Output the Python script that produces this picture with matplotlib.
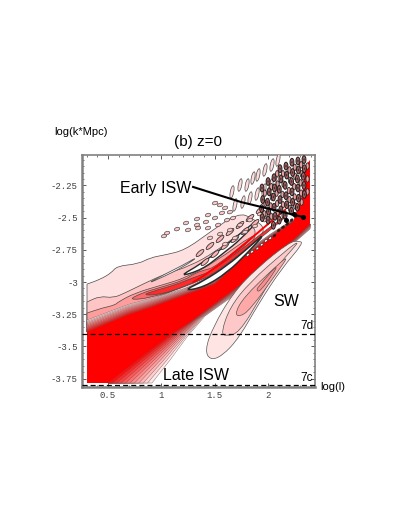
import numpy as np
from matplotlib import pyplot as plt
from matplotlib.patches import Ellipse, PathPatch
from matplotlib.path import Path

### Axis ticks
x_ticks = [0.5, 1, 1.5, 2]
x_tick_labels = ['0.5', '1', '1.5', '2']
y_ticks = [-2.25, -2.5, -2.75, -3, -3.25, -3.5, -3.75]
y_tick_labels = ['-2.25', '-2.5', '-2.75', '-3', '-3.25', '-3.5', '-3.75']

### Contour outlines (log l, log k)
level1_l = [.303, .303, .303, .303, .425, .53, .584, .781, .9, 1.034, 1.222, 1.456, 1.718, 1.85, 2.0, 1.765, 1.503, .912]
level1_k = [-3.388, -3.388, -3.016, -3.016, -2.98, -2.93, -2.876, -2.86, -2.81, -2.79, -2.752, -2.612, -2.464, -2.5, -2.6, -2.814, -3.016, -3.194]
level2_l = [.303, .303, .303, .303, .425, .547, .659, .847, 1.034, 1.269, 1.503, 1.737, 1.878, 1.878, 1.503, .912]
level2_k = [-3.357, -3.357, -3.155, -3.155, -3.109, -3.124, -3.085, -3.008, -2.938, -2.876, -2.767, -2.62, -2.557, -2.674, -2.953, -3.163]
level3_l = [.303, .303, .303, .303, .444, .566, .594, .753, 1.006, 1.222, 1.503, 1.878, 1.878, 1.503, .912]
level3_k = [-3.334, -3.334, -3.241, -3.241, -3.202, -3.179, -3.155, -3.085, -3.023, -2.969, -2.845, -2.62, -2.674, -2.922, -3.14]
level4_l = [.687, .819, .969, 1.222, 1.315, 1.409, 1.503, 1.878, 1.831, 1.503, 1.222, .894]
level4_k = [-3.14, -3.085, -3.047, -2.984, -2.93, -2.907, -2.884, -2.635, -2.674, -2.93, -3.039, -3.124]
level5_l = [.819, .959, 1.128, 1.315, 1.503, 2.159, 2.178, 1.503, 1.315, 1.128, .959]
level5_k = [-3.101, -3.062, -3.023, -2.961, -2.907, -2.48, -2.495, -2.938, -3.0, -3.062, -3.101]

### Main red wedge edges
lower_inner_l = [.5, .8, 1.109, 1.269, 1.737, 1.925, 2.234, 2.393]
lower_inner_k = [-3.784, -3.59, -3.396, -3.311, -3.023, -2.891, -2.674, -2.55]
lower_outer_l = [.912, 1.081, 1.24, 1.409, 1.765, 1.943, 2.243, 2.393]
lower_outer_k = [-3.784, -3.606, -3.427, -3.264, -3.054, -2.922, -2.697, -2.589]
upper_inner_l = [.303, .687, .912, 1.222, 1.503, 1.765, 2.018, 2.234]
upper_inner_k = [-3.388, -3.256, -3.194, -3.101, -3.016, -2.814, -2.658, -2.534]
upper_outer_l = [.303, .687, .912, 1.222, 1.503, 1.765, 2.018, 2.234]
upper_outer_k = [-3.295, -3.175, -3.125, -3.05, -2.97, -2.78, -2.63, -2.515]
top_right_l = [2.318, 2.356, 2.393]
top_right_k = [-2.325, -2.092, -2.053]

### White gaps between the ridges
white1_l = [1.2, 1.4, 1.62, 1.8, 2.0, 1.8, 1.62, 1.4]
white1_k = [-3.07, -2.99, -2.87, -2.745, -2.6, -2.78, -2.925, -3.04]
white2_l = [1.16, 1.36, 1.56, 1.737, 1.93, 1.75, 1.56, 1.38]
white2_k = [-2.96, -2.865, -2.745, -2.625, -2.5, -2.665, -2.79, -2.905]
white3_l = [.85, 1.03, 1.2, 1.36, 1.2, 1.03]
white3_k = [-3.02, -2.94, -2.87, -2.795, -2.885, -2.955]

### Narrow red ridge between the white gaps
thin_red_l = [1.3, 1.4, 1.6, 1.8, 2.0, 2.16]
thin_red_k = [-3.0, -2.95, -2.83, -2.69, -2.55, -2.44]

### SW island
sw1_l = [1.409, 1.456, 1.569, 1.728, 1.915, 2.131, 2.33, 2.29, 2.2, 1.897, 1.672, 1.484]
sw1_k = [-3.528, -3.606, -3.575, -3.434, -3.163, -2.891, -2.7, -2.68, -2.69, -2.891, -3.085, -3.349]
sw2_l = [1.559, 1.606, 1.728, 1.934, 2.112, 2.206, 2.3, 2.16, 1.831, 1.643]
sw2_k = [-3.396, -3.42, -3.396, -3.116, -2.853, -2.767, -2.674, -2.76, -3.0, -3.194]
sw3_l = [1.69, 1.728, 1.831, 2.103, 2.196, 2.037, 1.775]
sw3_k = [-3.240, -3.272, -3.217, -2.907, -2.79, -2.907, -3.116]
sw4_l = [1.887, 1.925, 2.084, 2.065, 1.925]
sw4_k = [-3.062, -3.078, -2.891, -2.884, -3.023]

### Isolated oscillation blobs
blob_l = [1.025, 1.053, 1.147, 1.231, 1.334, 1.437, 1.334, 1.418, 1.503, 1.568, 1.643, 1.503, 1.55, 1.597,
          1.25, 1.344, 1.437, 1.531, 1.615, 1.672,
          1.456, 1.55, 1.643, 1.737, 1.831, 1.925,
          1.597, 1.69, 1.784, 1.878, 1.971]
blob_k = [-2.643, -2.62, -2.589, -2.542, -2.511, -2.48, -2.557, -2.534, -2.503, -2.464, -2.457, -2.387, -2.402, -2.425,
          -2.596, -2.581, -2.581, -2.557, -2.519, -2.503,
          -2.658, -2.627, -2.596, -2.557, -2.519, -2.472,
          -2.705, -2.658, -2.612, -2.565, -2.519]

### Elongated cells along the ridge rows
ridge_l = [1.362, 1.456, 1.55, 1.643, 1.737, 1.831, 1.925,
           1.409, 1.503, 1.597, 1.69, 1.784, 1.878, 1.971]
ridge_k = [-2.775, -2.72, -2.666, -2.612, -2.557, -2.503, -2.441,
           -2.845, -2.783, -2.72, -2.666, -2.604, -2.542, -2.48]

### Tall crescents above the ridges
crescent_l = [1.662, 1.737, 1.803, 1.859, 1.906, 1.971, 2.037, 2.093, 1.69, 1.765, 1.831, 1.897, 1.962, 2.028, 2.093]
crescent_k = [-2.301, -2.247, -2.247, -2.193, -2.169, -2.13, -2.092, -2.053, -2.402, -2.379, -2.348, -2.317, -2.286, -2.247, -2.208]

### Dense dark cells near the top right
dark_l = [1.943, 1.95, 1.94, 1.945,
          2.0, 2.01, 1.995, 2.005, 2.0,
          2.056, 2.06, 2.05, 2.056, 2.065, 2.05,
          2.112, 2.12, 2.105, 2.112, 2.12, 2.105,
          2.168, 2.175, 2.16, 2.168, 2.175, 2.16,
          2.224, 2.23, 2.22, 2.224, 2.23, 2.22,
          2.28, 2.285, 2.275, 2.28, 2.285, 2.275,
          2.337, 2.34, 2.33, 2.337, 2.34]
dark_k = [-2.27, -2.36, -2.43, -2.50,
          -2.22, -2.30, -2.38, -2.45, -2.52,
          -2.19, -2.27, -2.34, -2.42, -2.49, -2.56,
          -2.12, -2.20, -2.28, -2.36, -2.44, -2.52,
          -2.10, -2.17, -2.25, -2.33, -2.40, -2.48,
          -2.07, -2.15, -2.22, -2.30, -2.38, -2.45,
          -2.06, -2.13, -2.20, -2.27, -2.35, -2.42,
          -2.05, -2.12, -2.18, -2.25, -2.32]
dark2_l = [1.97, 1.975, 1.965, 2.03, 2.035, 2.025, 2.03, 2.085, 2.09, 2.08, 2.085, 2.09,
           2.14, 2.145, 2.135, 2.14, 2.145, 2.2, 2.205, 2.195, 2.2, 2.205,
           2.25, 2.255, 2.245, 2.25, 2.255, 2.31, 2.315, 2.305, 2.31, 2.315, 2.37, 2.37, 2.37]
dark2_k = [-2.31, -2.39, -2.47, -2.26, -2.34, -2.41, -2.49, -2.16, -2.24, -2.31, -2.39, -2.46,
           -2.16, -2.24, -2.32, -2.4, -2.48, -2.13, -2.21, -2.29, -2.36, -2.43,
           -2.11, -2.18, -2.26, -2.34, -2.41, -2.09, -2.16, -2.23, -2.31, -2.38, -2.1, -2.2, -2.3]

### Speckles along the red band
speck_l = [1.81, 1.85, 1.9, 1.94, 1.98, 2.02, 2.06, 2.1, 2.14, 2.18, 2.22, 2.26]
speck_k = [-2.79, -2.765, -2.74, -2.71, -2.68, -2.66, -2.64, -2.6, -2.575, -2.55, -2.52, -2.49]

### Early ISW pointer
pointer_l = [1.297, 1.75, 2.1, 2.328]
pointer_k = [-2.262, -2.38, -2.45, -2.495]
dots_l = [2.328, 2.24, 2.17]
dots_k = [-2.495, -2.47, -2.52]

LINE = '#4a4a4a'
FAN_LINE = '#6a4a4a'
GREY = '#808080'
MONO = 'Liberation Mono'
SANS = 'Liberation Sans'

fig = plt.figure(figsize=(4.08, 5.28), dpi=100)
ax = fig.add_axes([82/408, 1-387/528, 233/408, 232/528])
ax.set_xlim(0.256, 2.44)
ax.set_ylim(-3.815, -2.014)

### Closed outline with rounded corners, a doubled point stays sharp
def band(ls, ks, color, lw=0.5, edge=LINE, z=2):
    pts = np.column_stack([ls, ks])
    mids = (pts + np.roll(pts, -1, axis=0)) / 2
    verts = [mids[-1]]
    codes = [Path.MOVETO]
    for p, m in zip(pts, mids):
        verts += [p, m]
        codes += [Path.CURVE3, Path.CURVE3]
    ax.add_patch(PathPatch(Path(verts, codes), facecolor=color, edgecolor=edge, linewidth=lw, zorder=z))

band(level1_l, level1_k, '#ffe0e0')
band(level2_l, level2_k, '#ffc4c4')
band(level3_l, level3_k, '#ff9c9c')
band(level4_l, level4_k, '#ff6a6a')
band(level5_l, level5_k, '#ff2a2a')

### Steep edges of the wedge: tightly packed contours
fan_steps = [0.0, 0.1, 0.2, 0.3, 0.4, 0.5, 0.6, 0.7, 0.8, 0.9]
fan_colors = ['#ffe8e8', '#ffd0d0', '#ffb8b8', '#ffa0a0', '#ff8888', '#ff7070', '#ff5858', '#ff4040', '#ff2828', '#ff1010']
lo_in = np.column_stack([lower_inner_l, lower_inner_k])
lo_out = np.column_stack([lower_outer_l, lower_outer_k])
up_in = np.column_stack([upper_inner_l, upper_inner_k])
up_out = np.column_stack([upper_outer_l, upper_outer_k])
for t, c in zip(fan_steps, fan_colors):
    edge = lo_out + (lo_in - lo_out) * t
    ax.fill(np.r_[edge[:, 0], lower_inner_l[::-1]], np.r_[edge[:, 1], lower_inner_k[::-1]],
            facecolor=c, edgecolor=FAN_LINE, linewidth=0.25, zorder=3)
    edge = up_out + (up_in - up_out) * t
    ax.fill(np.r_[edge[:, 0], upper_inner_l[::-1]], np.r_[edge[:, 1], upper_inner_k[::-1]],
            facecolor=c, edgecolor=FAN_LINE, linewidth=0.25, zorder=3)

### Solid red body
body_l = upper_inner_l + top_right_l + lower_inner_l[::-1] + [.303]
body_k = upper_inner_k + top_right_k + lower_inner_k[::-1] + [-3.784]
ax.fill(body_l, body_k, facecolor='#ff0000', edgecolor='none', zorder=4)

### White gaps
band(white1_l, white1_k, 'white', 1.1, '#2a2a2a', 5)
band(white2_l, white2_k, 'white', 1.0, '#2a2a2a', 5)
band(white3_l, white3_k, 'white', 0.6, '#555555', 5)
ax.plot(thin_red_l, thin_red_k, color='#ff0000', linewidth=1.4, zorder=5)

### Ripples
for l, k in zip(ridge_l, ridge_k):
    ax.add_patch(Ellipse((l, k), 0.085, 0.03, angle=35, facecolor='#ffb4b4', edgecolor='#333333', linewidth=0.6, zorder=6))
for l, k in zip(blob_l, blob_k):
    ax.add_patch(Ellipse((l, k), 0.05, 0.026, angle=12, facecolor='#ffc8c8', edgecolor=LINE, linewidth=0.5, zorder=6))
for l, k in zip(crescent_l, crescent_k):
    ax.add_patch(Ellipse((l, k), 0.032, 0.1, angle=-14, facecolor='#ffdcdc', edgecolor=LINE, linewidth=0.5, zorder=6))
for l, k in zip(dark2_l, dark2_k):
    ax.add_patch(Ellipse((l, k), 0.03, 0.05, facecolor='#e8a0a0', edgecolor='#2a2a2a', linewidth=0.6, zorder=6))
for l, k in zip(dark_l, dark_k):
    ax.add_patch(Ellipse((l, k), 0.036, 0.06, facecolor='#b06060', edgecolor='#1c1c1c', linewidth=0.7, zorder=6))
    ax.add_patch(Ellipse((l, k), 0.014, 0.02, facecolor='#383838', edgecolor='none', zorder=7))
for i, (l, k) in enumerate(zip(speck_l, speck_k)):
    c = 'white' if i < 6 else '#401010'
    ax.add_patch(Ellipse((l, k), 0.03, 0.018, angle=30, facecolor=c, edgecolor='#302020', linewidth=0.4, zorder=6))

### SW island
band(sw1_l, sw1_k, '#ffe4e4', 0.5, '#555555', 5)
band(sw2_l, sw2_k, '#ffc8c8', 0.5, '#555555', 5)
band(sw3_l, sw3_k, '#ffa8a8', 0.5, '#555555', 5)
band(sw4_l, sw4_k, '#ff8c8c', 0.5, '#555555', 5)

### Dashed limits
ax.axhline(-3.4, color='black', linewidth=0.9, dashes=(4, 2.5), zorder=8)
ax.axhline(-3.8, color='black', linewidth=0.9, dashes=(4, 2.5), zorder=8)

### Pointer
ax.plot(pointer_l, pointer_k, color='black', linewidth=1.5, zorder=9)
ax.plot(dots_l, dots_k, 'o', color='black', markersize=2.6, zorder=9)

### Frame and ticks
for side in ax.spines.values():
    side.set_color(GREY)
    side.set_linewidth(1.2)
ax.spines['left'].set_linewidth(1.8)
ax.spines['bottom'].set_linewidth(1.8)
ax.set_xticks(x_ticks)
ax.set_xticklabels(x_tick_labels, fontfamily=MONO, fontsize=6.5, color='#404040')
ax.set_yticks(y_ticks)
ax.set_yticklabels(y_tick_labels, fontfamily=MONO, fontsize=6.5, color='#404040')
ax.xaxis.set_minor_locator(plt.MultipleLocator(0.1))
ax.yaxis.set_minor_locator(plt.MultipleLocator(0.05))
ax.tick_params(which='major', direction='in', length=3, width=0.6, color='#404040', top=True, right=True, pad=3)
ax.tick_params(which='minor', direction='in', length=1.5, width=0.5, color='#404040', top=True, right=True)

### Labels
def label(px, py, s, size, ha='left', va='center'):
    fig.text(px/408, 1-py/528, s, fontsize=size, family=SANS, ha=ha, va=va, color='black')

label(54, 132, 'log(k*Mpc)', 8)
label(198, 142, '(b) z=0', 11, ha='center')
label(120, 189, 'Early ISW', 11.5)
label(273, 302, 'SW', 11.5)
label(163, 376, 'Late ISW', 11.5)
label(300, 326, '7d', 8.5)
label(300, 378, '7c', 8.5)
label(320, 387, 'log(l)', 8)

fig.savefig('out.png', dpi=100)
